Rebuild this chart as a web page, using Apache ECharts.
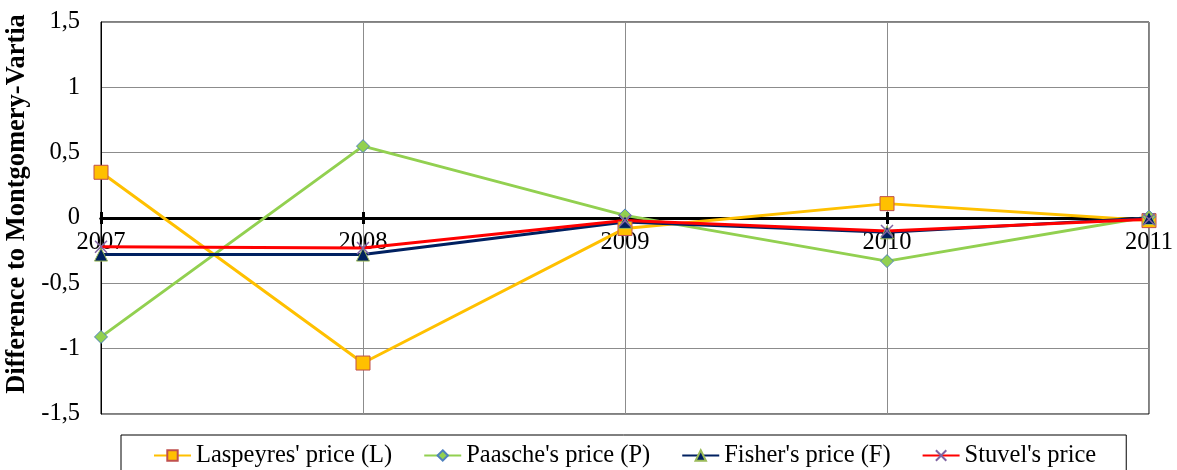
<!DOCTYPE html>
<html><head><meta charset="utf-8">
<script src="https://cdn.jsdelivr.net/npm/echarts@6/dist/echarts.min.js"></script>
<style>html,body{margin:0;padding:0;background:#fff}#c{width:1177px;height:470px}</style>
</head><body><div id="c"></div>
<script>
const years = ['2007','2008','2009','2010','2011'];
const laspeyres = [0.35, -1.11, -0.08, 0.11, -0.02];
const paasche = [-0.91, 0.55, 0.02, -0.33, 0.01];
const fisher = [-0.28, -0.28, -0.03, -0.11, 0.00];
const stuvel = [-0.22, -0.23, -0.02, -0.10, -0.01];
const yTicks = {min: -1.5, max: 1.5, interval: 0.5};

const font = 'Liberation Serif';
const W = 1177, H = 470;
const gridRect = {left: 101, right: 28, top: 22, bottom: 56, outerBoundsMode: 'none'};
const gridH = H - gridRect.top - gridRect.bottom;
// move the category axis up to the y = 0 line
const zeroOffset = -gridH * (0 - yTicks.min) / (yTicks.max - yTicks.min);
const chart = echarts.init(document.getElementById('c'));
const fmt = v => String(v).replace('.', ',');
chart.setOption({
  animation: false,
  textStyle: {fontFamily: font},
  grid: [
    Object.assign({show: true, borderColor: '#000', borderWidth: 1}, gridRect),
    Object.assign({show: false}, gridRect)
  ],
  legend: {
    left: 121, top: 435,
    padding: [8, 30, 14, 32],
    borderColor: '#000', borderWidth: 1,
    itemGap: 31, itemWidth: 37, itemHeight: 13,
    textStyle: {fontFamily: font, fontSize: 24.5, color: '#000'},
    data: ["Laspeyres' price (L)", "Paasche's price (P)", "Fisher's price (F)", "Stuvel's price"]
  },
  xAxis: [{
    gridIndex: 0, type: 'category', data: years, boundaryGap: false,
    position: 'bottom', offset: zeroOffset,
    axisLine: {onZero: false, lineStyle: {color: '#000', width: 3}},
    axisTick: {show: true, length: 6, lineStyle: {color: '#000', width: 3}},
    axisLabel: {fontFamily: font, fontSize: 24.5, color: '#000', margin: 12},
    splitLine: {show: true, lineStyle: {color: '#8c8c8c', width: 1}}
  }, {
    gridIndex: 1, type: 'category', data: years, boundaryGap: false,
    position: 'bottom', offset: zeroOffset,
    axisLine: {onZero: false, lineStyle: {color: '#000', width: 3}},
    axisTick: {show: true, inside: true, length: 6, lineStyle: {color: '#000', width: 3}},
    axisLabel: {show: false}, splitLine: {show: false}
  }],
  yAxis: [{
    gridIndex: 0, type: 'value', min: yTicks.min, max: yTicks.max, interval: yTicks.interval,
    name: 'Difference to Montgomery-Vartia', nameLocation: 'middle', nameGap: 66,
    nameTextStyle: {fontFamily: font, fontSize: 26.5, fontWeight: 'bold', color: '#000', padding: [0, 0, 0, 28]},
    axisLine: {show: true, lineStyle: {color: '#000', width: 1}},
    axisTick: {show: false},
    axisLabel: {fontFamily: font, fontSize: 24.5, color: '#000', margin: 21, formatter: fmt},
    splitLine: {show: true, lineStyle: {color: '#8c8c8c', width: 1}}
  }, {
    gridIndex: 1, type: 'value', min: yTicks.min, max: yTicks.max, interval: yTicks.interval,
    axisLine: {show: false}, axisTick: {show: false}, axisLabel: {show: false}, splitLine: {show: false}
  }],
  series: [
    {name: "Laspeyres' price (L)", type: 'line', data: laspeyres, symbol: 'rect', symbolSize: 14,
     lineStyle: {color: '#FFC000', width: 3}, itemStyle: {color: '#FFC000', borderColor: '#C0504D', borderWidth: 1}},
    {name: "Paasche's price (P)", type: 'line', data: paasche, symbol: 'diamond', symbolSize: 13,
     lineStyle: {color: '#92D050', width: 3}, itemStyle: {color: '#92D050', borderColor: '#4F81BD', borderWidth: 1}},
    {name: "Fisher's price (F)", type: 'line', data: fisher, symbol: 'triangle', symbolSize: 13,
     lineStyle: {color: '#002060', width: 3}, itemStyle: {color: '#002060', borderColor: '#9BBB59', borderWidth: 1}},
    {name: "Stuvel's price", type: 'line', data: stuvel, symbol: 'path://M0,0L10,10M10,0L0,10', symbolSize: 12,
     lineStyle: {color: '#FF0000', width: 3}, itemStyle: {color: 'rgba(0,0,0,0)', borderColor: '#8064A2', borderWidth: 1.5}}
  ]
});
</script></body></html>
